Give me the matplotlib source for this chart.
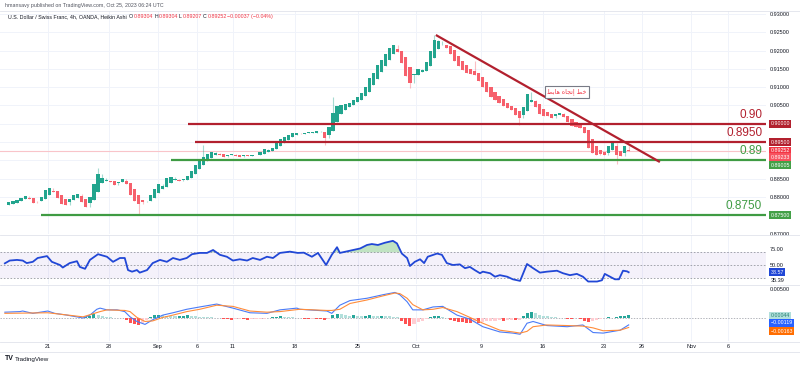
import numpy as np
import matplotlib
matplotlib.use("Agg")
import matplotlib.pyplot as plt
from matplotlib.lines import Line2D

plt.rcParams['font.family'] = ['Liberation Sans', 'DejaVu Sans']

# ---------------- data (8h Heikin-Ashi closes, USD/CHF) ----------------
closes = [
    0.8778, 0.8785, 0.8788, 0.8792, 0.8798, 0.8803, 0.8795, 0.8783, 0.8788, 0.8800,
    0.8818, 0.8825, 0.8815, 0.8798, 0.8782, 0.8778, 0.8795, 0.8805, 0.8808, 0.8785,
    0.8772, 0.8800, 0.8835, 0.8862, 0.8852, 0.8845, 0.8840, 0.8834, 0.8842, 0.8848,
    0.8835, 0.8805, 0.8790, 0.8780, 0.8785, 0.8790, 0.8805, 0.8822, 0.8835, 0.8830,
    0.8852, 0.8856, 0.8848, 0.8845, 0.8848, 0.8858, 0.8872, 0.8888, 0.8898, 0.8908,
    0.8918, 0.8923, 0.8920, 0.8915, 0.8910, 0.8914, 0.8918, 0.8912, 0.8910, 0.8915,
    0.8912, 0.8916, 0.8914, 0.8922, 0.8930, 0.8928, 0.8935, 0.8948, 0.8958, 0.8965,
    0.8970, 0.8974, 0.8976, 0.8972, 0.8975, 0.8978, 0.8976, 0.8980, 0.8978, 0.8962,
    0.8990, 0.9030, 0.9048, 0.9050, 0.9055, 0.9058, 0.9065, 0.9072, 0.9085, 0.9100,
    0.9125, 0.9140, 0.9160, 0.9175, 0.9190, 0.9208, 0.9215, 0.9195, 0.9165, 0.9130,
    0.9112, 0.9135, 0.9150, 0.9148, 0.9170, 0.9200, 0.9228, 0.9225, 0.9215, 0.9208,
    0.9190, 0.9172, 0.9158, 0.9148, 0.9140, 0.9136, 0.9132, 0.9118, 0.9100, 0.9088,
    0.9072, 0.9065, 0.9058, 0.9048, 0.9042, 0.9038, 0.9025, 0.9015, 0.9045, 0.9082,
    0.9065, 0.9045, 0.9028, 0.9022, 0.9020, 0.9017, 0.9028, 0.9030, 0.9018, 0.9005,
    0.8995, 0.8990, 0.8988, 0.8975, 0.8935, 0.8920, 0.8916, 0.8918, 0.8915, 0.8940,
    0.8948, 0.8915, 0.8912, 0.8940, 0.89252,
]
# notable wick extremes (bar index, price)
wick_bars = [23, 33, 49, 79, 81, 100, 106, 116, 127, 130, 151]
wick_prices = [0.8880, 0.8751, 0.8942, 0.8942, 0.9074, 0.9097, 0.9243, 0.9172, 0.8997, 0.9088, 0.8891]

rsi_bars = [0, 1.2, 3, 4.4, 5.4, 6.9, 8.1, 10.4, 11.6, 13.6, 14.3, 16, 17.8, 18.5, 19.8, 21, 23, 25.2,
            26.7, 28.4, 29.6, 30.4, 31.4, 32.6, 33.3, 35.1, 36.5, 38.3, 40, 41.5, 43.2, 44.9, 46.2,
            48.1, 49.9, 51.4, 53.1, 54.8, 56.3, 58, 59.8, 61.2, 63, 64.7, 66.2, 67.9, 70.4, 72.3,
            73.8, 75.8, 77.3, 79.3, 80.7, 82, 82.7, 85.2, 87.7, 89.4, 90.6, 92.1, 93.8, 95.8, 96.8,
            98, 99.3, 100, 101.2, 102.5, 103.5, 104.4, 106.7, 107.9, 109.1, 110.6, 112.3, 113.6,
            114.8, 116, 117.3, 118, 119.8, 121, 122.2, 124, 125.4, 127.2, 128.9, 130.4, 132.1,
            133.8, 136.3, 137.8, 139.5, 141.2, 142.7, 144, 146.2, 147.4, 148.1, 149.4, 150.6,
            151.6, 152.6, 153.6, 154]
rsi_vals = [52.6, 57, 58, 57, 53, 55, 61, 64, 55, 50, 46, 53, 56, 47, 44, 58, 67, 63,
            55, 61, 61, 42, 39.5, 42, 38, 42, 53, 58, 55, 61, 58, 61, 67,
            69, 69, 73.6, 66, 63, 57, 59, 57, 61, 58, 63, 61, 69, 71, 69,
            69.4, 63, 69, 50, 66, 78, 69, 72.5, 76, 81.5, 83, 81.5, 85, 88, 84,
            68, 61, 48.4, 55, 59, 53, 63, 68, 66, 53, 50, 51, 45,
            47, 42, 37, 39.5, 37, 31.6, 34, 31.6, 27.5, 25, 51.6, 45, 38,
            39.5, 41, 37, 34, 36, 31.6, 24, 24, 26, 36, 31.6, 27.5,
            27.5, 41, 40, 38.57]

macd_bars = [0, 3.7, 4.4, 6.9, 10.6, 12.3, 15.3, 19.3, 21, 22.7, 23.5, 25.2, 27.7, 29.6, 30.9, 32.6,
             34.6, 36.5, 39, 41.5, 44.9, 48.1, 52.3, 56.3, 60.5, 64.7, 67.9, 72.1, 72.8, 79.5, 80.7,
             82.7, 85.2, 89.4, 93.3, 96.3, 97.5, 99.3, 100.7, 103.2, 105.7, 108.1, 111.6, 114.8,
             118, 122.2, 125.4, 127.2, 128.9, 130.4, 133.8, 138.8, 142.7, 145.2, 147.7, 151.9, 154]
macd_vals = [0.0010, 0.0011, 0.0012, 0.0008, 0.0012, 0.0008, 0.0005, 0.0000, 0.0005, 0.0015,
             0.0017, 0.0014, 0.0014, 0.0011, 0.0002, -0.0006, -0.0011, -0.0003, 0.0005, 0.0009,
             0.0015, 0.0019, 0.0024, 0.0017, 0.0009, 0.0008, 0.0014, 0.0017, 0.0015, 0.0012,
             0.0008, 0.0022, 0.0030, 0.0034, 0.0040, 0.0044, 0.0040, 0.0028, 0.0014, 0.0014,
             0.0019, 0.0020, 0.0005, -0.0002, -0.0015, -0.0024, -0.0026, -0.0028, -0.0009,
             -0.0006, -0.0013, -0.0015, -0.0012, -0.0025, -0.0026, -0.0021, -0.00119]
signal_bars = [0, 10.6, 19.3, 23.5, 25.2, 29.6, 30.9, 32.6, 34.6, 36.5, 39, 41.5, 44.9, 48.1, 52.3,
               56.3, 60.5, 64.7, 67.9, 72.8, 79.5, 80.7, 82.7, 85.2, 89.4, 93.3, 96.3, 97.5, 99.3,
               100.7, 103.2, 105.7, 108.1, 111.6, 114.8, 118, 122.2, 125.4, 127.2, 128.9, 130.4,
               133.8, 138.8, 142.7, 145.2, 147.7, 151.9, 154]
signal_vals = [0.0008, 0.0009, 0.0002, 0.0011, 0.0014, 0.0013, 0.0011, 0.0001, -0.0006, -0.0005,
               0.0001, 0.0005, 0.0011, 0.0015, 0.0022, 0.0020, 0.0012, 0.0010, 0.0011, 0.0015,
               0.0013, 0.0013, 0.0015, 0.0025, 0.0031, 0.0038, 0.0043, 0.0042, 0.0034, 0.0023,
               0.0014, 0.0015, 0.0018, 0.0011, 0.0001, -0.0009, -0.0021, -0.0024, -0.0026,
               -0.0023, -0.0015, -0.0012, -0.0013, -0.0014, -0.0017, -0.0022, -0.0021, -0.00163]
# histogram per bar, in units of 1e-4
hist_e4 = [
    0.2, -0.2, 0.2, -0.3, -0.4, -0.5, -0.3, -0.4, -0.3, 0.2,
    0.3, 0.1, -0.3, -0.5, -0.6, -0.4, -0.3, -0.5, -0.5, -0.3,
    1.5, 4.0, 6.5, 6.0, 4.0, 2.5, 1.2, 0.5, 0.2, -0.3,
    -3.0, -8.0, -11.0, -12.0, -9.0, -4.0, 2.0, 4.5, 5.0, 4.5,
    4.0, 3.5, 3.0, 3.5, 4.0, 4.5, 4.0, 3.0, 2.5, 2.0,
    1.5, 1.0, 0.5, -0.5, -1.5, -2.5, -3.0, -2.5, -2.0, -2.5,
    -3.0, -2.5, -2.0, -1.5, -1.0, 0.5, 1.5, 2.5, 3.0, 2.5,
    2.0, 1.5, 0.5, -0.5, -1.0, -1.5, -1.0, -1.5, -2.0, -3.5,
    -1.0, 5.0, 7.5, 6.5, 5.0, 4.0, 4.5, 4.0, 3.5, 4.0,
    4.5, 4.0, 3.5, 4.0, 3.5, 3.0, 2.5, 1.5, -5.0, -11.0,
    -13.0, -10.0, -7.0, -5.0, -1.0, 2.0, 3.0, 3.5, 2.5, 0.5,
    -3.0, -5.0, -6.5, -7.5, -8.0, -8.0, -7.5, -8.0, -7.0, -6.0,
    -5.0, -4.5, -4.0, -4.5, -4.0, -3.5, -3.5, -3.0, 4.0, 9.0,
    10.0, 8.0, 5.0, 3.5, 3.0, 2.0, 1.0, 0.5, -0.5, -1.0,
    -1.0, -0.5, -2.0, -5.0, -6.5, -6.0, -4.0, -2.0, -0.5, 1.0,
    0.5, 1.0, 3.0, 4.0, 4.4,
]

price_ticks = [0.93, 0.925, 0.92, 0.915, 0.91, 0.905, 0.90, 0.895, 0.89, 0.885, 0.88, 0.875, 0.87]
hidden_ticks = [0.90, 0.895, 0.89, 0.875]

levels = [0.90, 0.895, 0.89, 0.875]
level_start = [45.2, 46.9, 41.0, 8.9]
level_text = ['0.90', '0.8950', '0.89', '0.8750']
level_kind = ['res', 'res', 'sup', 'sup']

trend_bars = [106.4, 161.7]
trend_prices = [0.92426, 0.88956]

date_bars = [10.6, 25.7, 37.8, 47.4, 56.3, 71.6, 87.2, 101.5, 117.5, 132.8, 147.9, 157.3, 169.4, 178.5]
date_labels = ['21', '28', 'Sep', '6', '11', '18', '25', 'Oct', '9', '16', '23', '26', 'Nov', '6']

last_price = 0.89252

# ---------------- styles ----------------
RED = '#b2202e'
GREEN = '#3f9b43'
UP = '#22a58e'
DOWN = '#f6606c'
GRID = '#f0f3fa'
TXT = '#131722'
XL = (-1.2, 187.9)

W, H = 800, 367
def fy(px):
    return 1 - px / H

fig = plt.figure(figsize=(8, 3.67), dpi=100)
fig.patch.set_facecolor('white')
ax = fig.add_axes([0, fy(234), 766 / W, (234 - 11) / H])
ax_r = fig.add_axes([0, fy(284), 766 / W, (284 - 235) / H])
ax_m = fig.add_axes([0, fy(341), 766 / W, (341 - 285) / H])

for a in (ax, ax_r, ax_m):
    for s in a.spines.values():
        s.set_visible(False)
    a.set_xlim(*XL)
    a.set_xticks(date_bars)
    a.tick_params(axis='both', length=0)
    for xb in date_bars:
        a.axvline(xb, color=GRID, lw=0.7, zorder=0)

# ---------------- main price panel ----------------
c = np.array(closes)
n = len(c)
x = np.arange(n)
o = np.empty(n)
o[0] = c[0]
for i in range(1, n):
    o[i] = (o[i - 1] + c[i - 1]) / 2
prev_c = np.concatenate([[c[0]], c[:-1]])
hi = np.maximum.reduce([o, c, prev_c])
lo = np.minimum.reduce([o, c, prev_c])
for b, p in zip(wick_bars, wick_prices):
    hi[b] = max(hi[b], p)
    lo[b] = min(lo[b], p)
up = c >= o
cols = np.where(up, UP, DOWN)
body = c - o
body = np.where(np.abs(body) < 0.00005, np.where(up, 0.00005, -0.00005), body)
ax.vlines(x, lo, hi, colors=cols, lw=0.8, alpha=0.4, zorder=2)
ax.bar(x, body, bottom=o, width=0.78, color=cols, zorder=3, linewidth=0)

ax.set_ylim(0.86989, 0.93082)
ax.yaxis.tick_right()
ax.set_yticks(price_ticks)
ax.set_yticklabels(['' if t in hidden_ticks else f'{t:.5f}' for t in price_ticks])
ax.tick_params(axis='y', labelsize=4, labelcolor=TXT, pad=3)
ax.set_xticklabels([])
for t in price_ticks:
    ax.axhline(t, color=GRID, lw=0.7, zorder=0)

ax.axhline(last_price, color='#f9c4c9', lw=0.8, zorder=1)

for lv, st, tx, kd in zip(levels, level_start, level_text, level_kind):
    col = RED if kd == 'res' else GREEN
    ax.hlines(lv, st, XL[1], color=col, lw=1.6, zorder=4)
    ax.annotate(tx, xy=(0.995, lv), xycoords=('axes fraction', 'data'), xytext=(0, 2.2),
                textcoords='offset points', ha='right', va='bottom', fontsize=8.5,
                color=col, annotation_clip=False, zorder=6)

ax.plot(trend_bars, trend_prices, color=RED, lw=1.6, zorder=5, solid_capstyle='butt')

arabic = '\uFEC2\uFE91\uFE8E\uFEEB \uFEE9\uFE8E\uFEA0\uFE97\uFE87 \uFEC2\uFEA7'
ax.text(138.8, 0.90869, arabic, fontsize=4.5, color='#f23645', ha='center', va='center',
        family=['DejaVu Sans'], zorder=7,
        bbox=dict(boxstyle='square,pad=0.35', fc='white', ec='#787b86', lw=0.8))

def axis_box(a, val, txt, fc, tc='white'):
    a.annotate(txt, xy=(1, val), xycoords=('axes fraction', 'data'), xytext=(3.2, 0),
               textcoords='offset points', ha='left', va='center', fontsize=3.8, color=tc,
               annotation_clip=False, zorder=8,
               bbox=dict(boxstyle='square,pad=0.25', fc=fc, ec='none'))

axis_box(ax, 0.90, '0.90000', RED)
axis_box(ax, 0.895, '0.89500', RED)
axis_box(ax, 0.8927, '0.89252', '#f23645')
axis_box(ax, 0.8909, '0.89233', '#f7525f')
axis_box(ax, 0.88874, '0.89005', '#43a047')
axis_box(ax, 0.875, '0.87500', '#43a047')

# ---------------- RSI panel ----------------
ax_r.set_ylim(20.1, 97.2)
ax_r.axhspan(30, 70, color='#7e57c2', alpha=0.08, lw=0, zorder=0)
for lv in (70, 50, 30):
    ax_r.axhline(lv, color='#9598a1', lw=0.6, ls=(0, (2, 2)), zorder=1)
rb = np.array(rsi_bars)
rv = np.array(rsi_vals)
ax_r.fill_between(rb, rv, 70, where=rv > 70, interpolate=True, color='#4caf50', alpha=0.35,
                  lw=0, zorder=2)
ax_r.plot(rb, rv, color='#2147d6', lw=1.3, zorder=3)
ax_r.yaxis.tick_right()
ax_r.set_yticks([75, 50])
ax_r.set_yticklabels(['75.00', '50.00'])
ax_r.tick_params(axis='y', labelsize=4, labelcolor=TXT, pad=3)
ax_r.set_xticklabels([])
axis_box(ax_r, 38.57, '38.57', '#2147d6')
ax_r.annotate('35.39', xy=(1, 25), xycoords=('axes fraction', 'data'), xytext=(3.2, 0),
              textcoords='offset points', ha='left', va='center', fontsize=4, color=TXT,
              annotation_clip=False)

# ---------------- MACD panel ----------------
ax_m.set_ylim(-0.00396, 0.00568)
hist = np.array(hist_e4) / 1e4
prev = np.concatenate([[hist[0]], hist[:-1]])
hcols = np.where(hist >= 0, np.where(hist >= prev, '#26a69a', '#b2dfdb'),
                 np.where(hist <= prev, '#ff5252', '#ffcdd2'))
ax_m.bar(x, hist, width=0.75, color=hcols, lw=0, zorder=2)
ax_m.axhline(0, color='#9598a1', lw=0.5, ls=(0, (2, 2)), zorder=1)
ax_m.plot(macd_bars, macd_vals, color='#4a7bf7', lw=0.8, zorder=3)
ax_m.plot(signal_bars, signal_vals, color='#ff8c3a', lw=0.8, zorder=3)
ax_m.yaxis.tick_right()
ax_m.set_yticks([0.005])
ax_m.set_yticklabels(['0.00500'])
ax_m.tick_params(axis='y', labelsize=4, labelcolor=TXT, pad=3)
ax_m.set_xticklabels(date_labels)
ax_m.tick_params(axis='x', labelsize=4, labelcolor=TXT, pad=2.5)
axis_box(ax_m, 0.00044, '0.00044', '#b2dfdb', tc='#22806f')
axis_box(ax_m, -0.00086, '\u22120.00119', '#2962ff')
axis_box(ax_m, -0.00224, '\u22120.00163', '#ff6d00')

# ---------------- separators ----------------
for py in (11, 234.5, 284.5, 341.5, 352):
    fig.add_artist(Line2D([0, 1], [fy(py), fy(py)], color='#e0e3eb', lw=0.6))

# ---------------- texts ----------------
def chain(x0, y0, pieces, size):
    prev = None
    for txt, col in pieces:
        if prev is None:
            prev = ax.annotate(txt, xy=(x0 / W, fy(y0)), xycoords='figure fraction',
                               ha='left', va='center', fontsize=size, color=col,
                               annotation_clip=False, zorder=9)
        else:
            prev = ax.annotate(txt, xy=(1, 0), xycoords=prev, xytext=(0.6, 0),
                               textcoords='offset points', ha='left', va='bottom',
                               fontsize=size, color=col, annotation_clip=False, zorder=9)

fig.text(5 / W, fy(6), 'hmansavy published on TradingView.com, Oct 25, 2023 06:24 UTC',
         fontsize=3.8, color='#50535e', va='center', ha='left')

R = '#f23645'
chain(8, 16.5, [('U.S. Dollar / Swiss Franc, 4h, OANDA, Heikin Ashi ', TXT), ('O', TXT), ('0.89304', R),
                ('H', TXT), ('0.89304', R), ('L', TXT), ('0.89207', R), ('C', TXT), ('0.89252', R),
                ('\u22120.00037 (\u22120.04%)', R)], 3.8)
chain(8, 242, [('RSI (20, close, SMA, 14, 2)', TXT), ('38.57', '#2962ff'),
               ('\u2205 \u2205 \u2205 \u2205 \u2205 \u2205', TXT)], 3.9)
chain(8, 293, [('MACD (12, 26, close, 9, EMA, EMA)', TXT), ('0.00044', '#4fb3a5'),
               ('\u22120.00119', '#2962ff'), ('\u22120.00163', '#ff6d00')], 3.9)

fig.text(5 / W, fy(359), 'TV', fontsize=5, fontweight='bold', color=TXT, va='center', ha='left')
fig.text(15 / W, fy(359), 'TradingView', fontsize=4.5, color=TXT, va='center', ha='left')

fig.savefig('out.png', dpi=100, facecolor='white')
